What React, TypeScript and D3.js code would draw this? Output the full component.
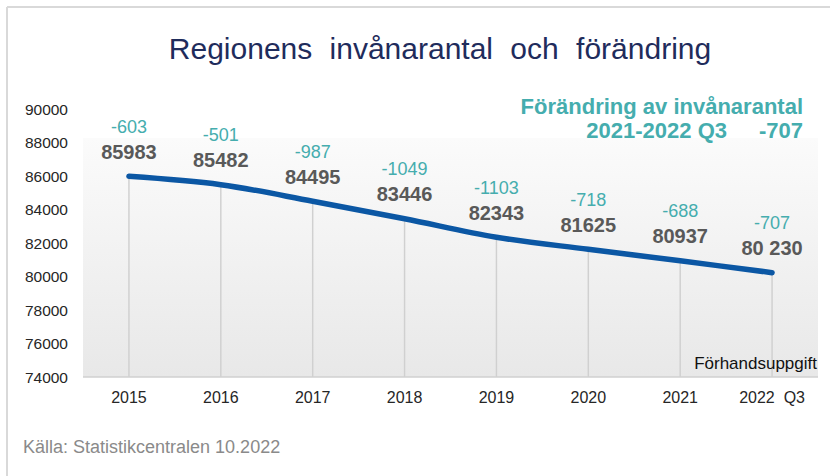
import React from "react";
import * as d3 from "d3";

const years = ["2015", "2016", "2017", "2018", "2019", "2020", "2021", "2022"];
const yearLabels = ["2015", "2016", "2017", "2018", "2019", "2020", "2021", "2022  Q3"];
const population = [85983, 85482, 84495, 83446, 82343, 81625, 80937, 80230];
const valueLabels = ["85983", "85482", "84495", "83446", "82343", "81625", "80937", "80 230"];
const changes = ["-603", "-501", "-987", "-1049", "-1103", "-718", "-688", "-707"];
const yTicks = [74000, 76000, 78000, 80000, 82000, 84000, 86000, 88000, 90000];

const W = 830;
const H = 476;
const FONT = "'Liberation Sans', Arial, sans-serif";

export default function App() {
  const left = 83;
  const right = 818;
  const top = 109;
  const bottom = 377;

  const x = d3.scaleBand<string>().domain(years).range([left, right]).paddingInner(0).paddingOuter(0);
  const cx = (c: string) => (x(c) as number) + x.bandwidth() / 2;
  const y = d3.scaleLinear().domain([74000, 90000]).range([bottom, top]);

  const line = d3
    .line<number>()
    .x((_, i) => cx(years[i]))
    .y((d) => y(d))
    .curve(d3.curveCatmullRom.alpha(0.5));

  const teal = "#45adae";
  const valueGray = "#595959";

  return (
    <svg
      width={W}
      height={H}
      style={{ position: "absolute", left: 0, top: 0, background: "#fff" }}
      fontFamily={FONT}
    >
      <defs>
        <linearGradient id="plotGrad" x1="0" y1="0" x2="0" y2="1">
          <stop offset="0%" stopColor="#fbfbfb" />
          <stop offset="100%" stopColor="#e8e8e8" />
        </linearGradient>
      </defs>
      <rect x={0} y={0} width={W} height={H} fill="#fff" />
      {/* frame */}
      <line x1={7} y1={7} x2={W} y2={7} stroke="#d9d9d9" strokeWidth={2} />
      <line x1={7} y1={7} x2={7} y2={H} stroke="#d9d9d9" strokeWidth={2} />

      {/* title */}
      <text
        x={440}
        y={48}
        textAnchor="middle"
        dominantBaseline="central"
        fontSize={30}
        fill="#1f2c5c"
        wordSpacing={9}
      >
        Regionens invånarantal och förändring
      </text>

      {/* plot area */}
      <rect x={left} y={138} width={right - left} height={bottom - 138} fill="url(#plotGrad)" />

      {/* drop lines */}
      {years.map((c, i) => (
        <line
          key={"d" + c}
          x1={cx(c)}
          x2={cx(c)}
          y1={y(population[i])}
          y2={bottom}
          stroke="#d0d0d0"
          strokeWidth={1.5}
        />
      ))}
      {/* axis line */}
      <line x1={left} x2={right} y1={bottom} y2={bottom} stroke="#d0d0d0" strokeWidth={1.5} />

      {/* y ticks */}
      {yTicks.map((t) => (
        <text
          key={"yt" + t}
          x={68}
          y={y(t)}
          textAnchor="end"
          dominantBaseline="central"
          fontSize={15.5}
          fill="#262626"
        >
          {t}
        </text>
      ))}

      {/* x labels */}
      {years.map((c, i) => (
        <text
          key={"xl" + c}
          x={cx(c)}
          y={397}
          textAnchor="middle"
          dominantBaseline="central"
          fontSize={16}
          fill="#262626"
          style={{ whiteSpace: "pre" }}
        >
          {yearLabels[i]}
        </text>
      ))}

      {/* line */}
      <path
        d={line(population) || ""}
        fill="none"
        stroke="#0b57a4"
        strokeWidth={5.5}
        strokeLinecap="round"
        strokeLinejoin="round"
      />

      {/* labels */}
      {years.map((c, i) => (
        <g key={"lb" + c}>
          <text
            x={cx(c)}
            y={y(population[i]) - 24.5}
            textAnchor="middle"
            dominantBaseline="central"
            fontSize={20}
            fontWeight="bold"
            fill={valueGray}
          >
            {valueLabels[i]}
          </text>
          <text
            x={cx(c)}
            y={y(population[i]) - 49.5}
            textAnchor="middle"
            dominantBaseline="central"
            fontSize={18}
            fill={teal}
          >
            {changes[i]}
          </text>
        </g>
      ))}

      {/* annotation */}
      <text x={803} y={106} textAnchor="end" dominantBaseline="central" fontSize={22} fontWeight="bold" fill={teal}>
        Förändring av invånarantal
      </text>
      <text x={727} y={130} textAnchor="end" dominantBaseline="central" fontSize={22} fontWeight="bold" fill={teal}>
        2021-2022 Q3
      </text>
      <text x={803} y={130} textAnchor="end" dominantBaseline="central" fontSize={22} fontWeight="bold" fill={teal}>
        {changes[changes.length - 1]}
      </text>

      <text x={817} y={363} textAnchor="end" dominantBaseline="central" fontSize={17} fill="#111">
        Förhandsuppgift
      </text>

      <text x={23} y={447} dominantBaseline="central" fontSize={18} fill="#8a8a8a">
        Källa: Statistikcentralen 10.2022
      </text>
    </svg>
  );
}
